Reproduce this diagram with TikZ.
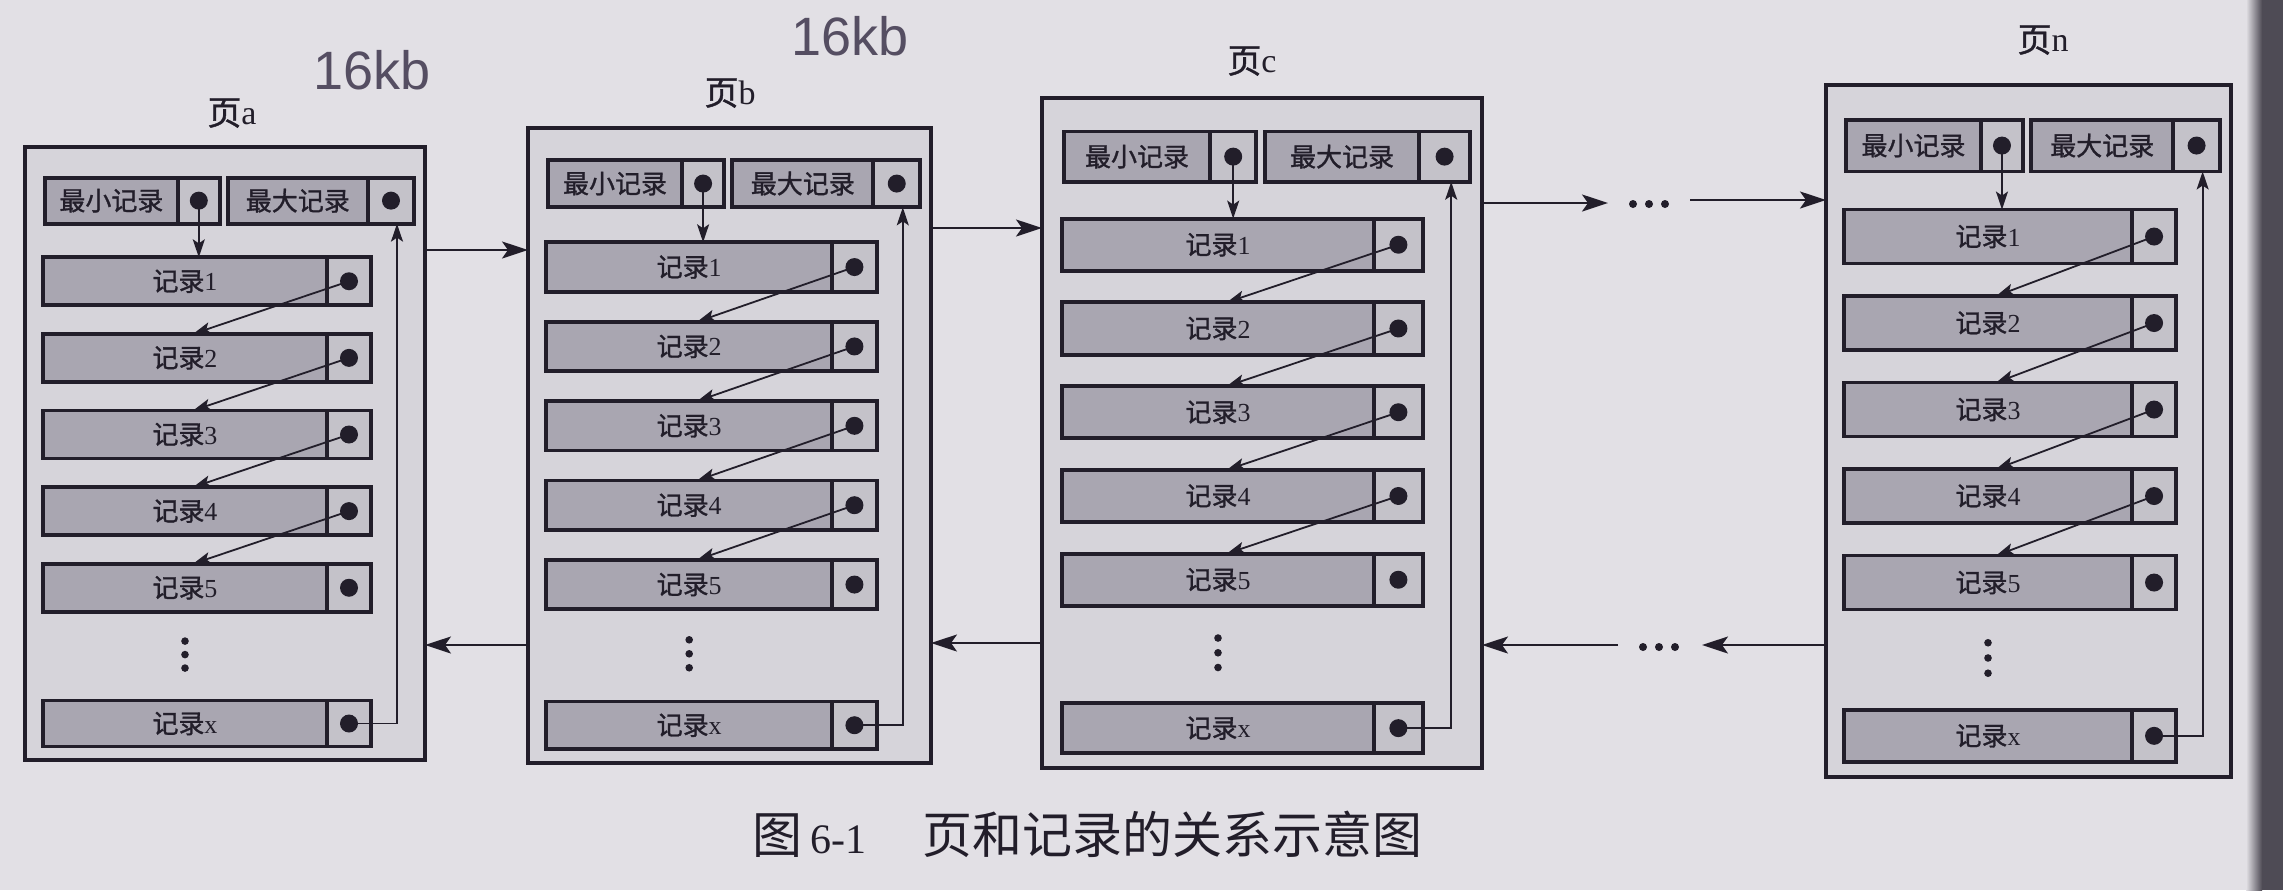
\documentclass[tikz,border=0pt]{standalone}
\usepackage{fontspec}
\setmainfont{Liberation Serif}
\newfontfamily\cjk{Noto Sans CJK SC}
\newfontfamily\cjkb[FakeBold=1.2]{Noto Sans CJK SC}
\newfontfamily\handfont{Liberation Sans}
\usetikzlibrary{arrows.meta,calc}
\definecolor{paper}{HTML}{E2E0E5}
\definecolor{pagefill}{HTML}{D6D4DA}
\definecolor{recfill}{HTML}{A9A6B1}
\definecolor{cellfill}{HTML}{C4C2C9}
\definecolor{ink}{HTML}{221E2A}
\definecolor{handink}{HTML}{554E62}
\tikzset{
  pagebox/.style={draw=ink, line width=2.2pt, fill=pagefill, inner sep=0pt, outer sep=0pt},
  recline/.style={draw=ink, line width=1.9pt},
  rectext/.style={font=\fontsize{13pt}{14pt}\selectfont, text=ink, inner sep=0pt},
  pagelab/.style={font=\fontsize{17pt}{18pt}\selectfont, text=ink, inner sep=0pt},
  dot/.style={circle, fill=ink, inner sep=0pt, minimum size=9pt},
  smalldot/.style={circle, fill=ink, inner sep=0pt, minimum size=3.8pt},
  arrin/.style={draw=ink, line width=0.9pt, -{Stealth[length=9pt,width=6pt,inset=2pt]}},
  arrout/.style={draw=ink, line width=1.1pt, -{Stealth[length=13pt,width=8.5pt,inset=3pt]}},
  handtext/.style={font=\handfont\fontsize{27pt}{30pt}\selectfont, text=handink, inner sep=0pt},
}
% #1 name, #2 x, #3 y, #4 width, #5 height (pixel units)
\newcommand\pagediagram[5]{%
  \node[pagebox, anchor=north west, minimum width=#4*0.5pt, minimum height=#5*0.5pt] (#1) at (#2,#3) {};
  \begin{scope}[shift={(#2,#3)}, x={(#4,0)}, y={(0,#5)}]
    % smallest record
    \draw[recline, fill=recfill] (0.05,0.05) rectangle (0.382,0.125);
    \draw[recline, fill=cellfill] (0.382,0.05) rectangle (0.487,0.125);
    \node[rectext] (#1-mint) at (0.216,0.0875) {\cjkb 最小记录};
    \node[dot] (#1-mind) at (0.4345,0.0875) {};
    \coordinate (#1-minin) at (0.4345,0.18);
    % largest record
    \draw[recline, fill=recfill] (0.507,0.05) rectangle (0.857,0.125);
    \draw[recline, fill=cellfill] (0.857,0.05) rectangle (0.973,0.125);
    \node[rectext] (#1-maxt) at (0.682,0.0875) {\cjkb 最大记录};
    \node[dot] (#1-maxd) at (0.915,0.0875) {};
    \coordinate (#1-maxin) at (0.93,0.125);
    % records 1..5
    \foreach \i in {1,...,5}{
      \pgfmathsetmacro\ytop{0.18+(\i-1)*0.125}
      \pgfmathsetmacro\ybot{\ytop+0.078}
      \pgfmathsetmacro\ymid{\ytop+0.039}
      \draw[recline, fill=recfill] (0.045,\ytop) rectangle (0.755,\ybot);
      \draw[recline, fill=cellfill] (0.755,\ytop) rectangle (0.865,\ybot);
      \node[rectext] (#1-r\i) at (0.40,\ymid) {{\cjkb 记录}\i};
      \node[dot] (#1-r\i-d) at (0.81,\ymid) {};
      \coordinate (#1-r\i-in) at (0.42,\ytop);
    }
    % vertical ellipsis
    \node[smalldot] (#1-v1) at (0.40,0.806) {};
    \node[smalldot] (#1-v2) at (0.40,0.828) {};
    \node[smalldot] (#1-v3) at (0.40,0.850) {};
    % record x
    \draw[recline, fill=recfill] (0.045,0.903) rectangle (0.755,0.978);
    \draw[recline, fill=cellfill] (0.755,0.903) rectangle (0.865,0.978);
    \node[rectext] (#1-rx) at (0.40,0.9405) {{\cjkb 记录}x};
    \node[dot] (#1-rx-d) at (0.81,0.9405) {};
  \end{scope}
  % pointers
  \draw[arrin] (#1-mind.center) -- (#1-minin);
  \foreach \i/\j in {1/2,2/3,3/4,4/5}{
    \draw[arrin] (#1-r\i-d.center) -- (#1-r\j-in);
  }
  \draw[arrin] (#1-rx-d.center) -| (#1-maxin);
}
\begin{document}
\begin{tikzpicture}[x=0.5pt, y=-0.5pt]
  \useasboundingbox (0,0) rectangle (2283,890);
  \fill[paper] (0,0) rectangle (2283,890);
  \shade[left color=paper, right color=ink!80] (2246,0) rectangle (2262,890);
  \fill[ink!80] (2262,0) rectangle (2283,890);

  % handwritten notes
  \node[handtext] (hw1) at (372,70) {16kb};
  \node[handtext] (hw2) at (850,36) {16kb};

  % pages
  \pagediagram{a}{25}{147}{400}{613}
  \pagediagram{b}{528}{128}{403}{635}
  \pagediagram{c}{1042}{98}{440}{670}
  \pagediagram{n}{1826}{85}{405}{692}

  \node[pagelab] (a-lab) at (232,113) {{\cjkb 页}a};
  \node[pagelab] (b-lab) at (730,93) {{\cjkb 页}b};
  \node[pagelab] (c-lab) at (1252,61) {{\cjkb 页}c};
  \node[pagelab] (n-lab) at (2043,40) {{\cjkb 页}n};

  % links between pages
  \coordinate (ab) at (0,250);
  \coordinate (ba) at (0,645);
  \coordinate (bc) at (0,228);
  \coordinate (cb) at (0,643);
  \draw[arrout] (a.east |- ab) -- (b.west |- ab);
  \draw[arrout] (b.west |- ba) -- (a.east |- ba);
  \draw[arrout] (b.east |- bc) -- (c.west |- bc);
  \draw[arrout] (c.west |- cb) -- (b.east |- cb);

  % forward c -> ... -> n
  \coordinate (cf) at (1608,203);
  \coordinate (nf) at (1690,200);
  \draw[arrout] (c.east |- cf) -- (cf);
  \node[smalldot, minimum size=4pt] (fd1) at (1633,204) {};
  \node[smalldot, minimum size=4pt] (fd2) at (1649,204) {};
  \node[smalldot, minimum size=4pt] (fd3) at (1665,204) {};
  \draw[arrout] (nf) -- (n.west |- nf);

  % backward n -> ... -> c
  \coordinate (nb) at (1702,645);
  \coordinate (cbk) at (1618,645);
  \draw[arrout] (n.west |- nb) -- (nb);
  \node[smalldot, minimum size=4pt] (bd1) at (1643,647) {};
  \node[smalldot, minimum size=4pt] (bd2) at (1659,647) {};
  \node[smalldot, minimum size=4pt] (bd3) at (1675,647) {};
  \draw[arrout] (cbk) -- (c.east |- cbk);

  % caption
  \node[anchor=west, inner sep=0pt, text=ink] (cap) at (752,834)
    {\fontsize{25pt}{26pt}\selectfont{\cjk 图}\hspace{4pt}{\fontsize{21pt}{22pt}\selectfont 6-1}\hspace{28pt}{\cjk 页和记录的关系示意图}};
\end{tikzpicture}
\end{document}
